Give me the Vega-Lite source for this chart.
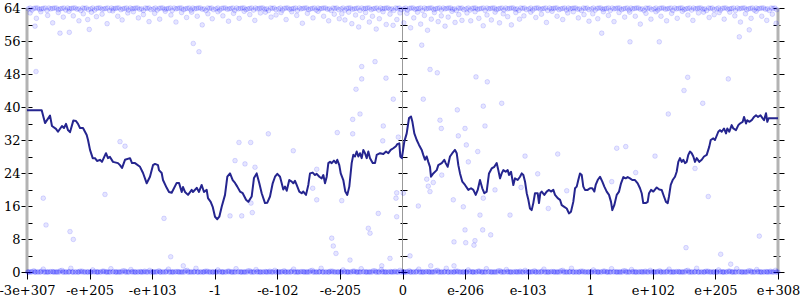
{
"$schema": "https://vega.github.io/schema/vega-lite/v6.json",
"width": 751, "height": 264,
"autosize": {"type": "none"},
"padding": {"left": 27, "top": 8, "right": 22, "bottom": 28},
"background": "white",
"config": {"view": {"stroke": null}, "axis": {"labelFont": "DejaVu Serif", "labelFontSize": 13, "labelColor": "#000", "tickColor": "#000", "grid": false, "title": null, "domain": false}},
"datasets": {
"edges": [{"x": 0}, {"x": 12}],
"mid": [{"x": 6}],
"line": [
{"x":0,"y":39.2},{"x":0.235,"y":39.2},{"x":0.288,"y":36.1},{"x":0.368,"y":37.9},{"x":0.399,"y":35.4},{"x":0.463,"y":34.7},{"x":0.495,"y":34.0},{"x":0.559,"y":35.4},{"x":0.591,"y":34.9},{"x":0.623,"y":35.9},{"x":0.655,"y":34.4},{"x":0.687,"y":33.9},{"x":0.74,"y":36.7},{"x":0.783,"y":36.6},{"x":0.815,"y":35.9},{"x":0.847,"y":34.9},{"x":0.895,"y":34.9},{"x":0.954,"y":33.2},{"x":0.975,"y":32.0},{"x":1.007,"y":29.6},{"x":1.05,"y":27.6},{"x":1.087,"y":27.6},{"x":1.119,"y":26.9},{"x":1.166,"y":27.2},{"x":1.198,"y":26.7},{"x":1.262,"y":28.8},{"x":1.294,"y":27.6},{"x":1.326,"y":27.9},{"x":1.374,"y":26.7},{"x":1.454,"y":26.4},{"x":1.486,"y":25.9},{"x":1.518,"y":25.2},{"x":1.566,"y":27.2},{"x":1.646,"y":27.6},{"x":1.678,"y":26.4},{"x":1.726,"y":26.4},{"x":1.806,"y":25.5},{"x":1.854,"y":24.0},{"x":1.913,"y":21.5},{"x":1.965,"y":23.1},{"x":2.013,"y":25.9},{"x":2.045,"y":26.2},{"x":2.093,"y":25.9},{"x":2.109,"y":24.7},{"x":2.152,"y":24.0},{"x":2.173,"y":22.3},{"x":2.232,"y":20.4},{"x":2.269,"y":19.4},{"x":2.312,"y":19.2},{"x":2.392,"y":21.6},{"x":2.429,"y":21.6},{"x":2.472,"y":19.4},{"x":2.493,"y":20.6},{"x":2.525,"y":19.4},{"x":2.573,"y":18.7},{"x":2.632,"y":19.9},{"x":2.652,"y":19.4},{"x":2.712,"y":20.4},{"x":2.748,"y":19.4},{"x":2.791,"y":21.1},{"x":2.828,"y":19.4},{"x":2.871,"y":19.9},{"x":2.892,"y":17.9},{"x":2.935,"y":17.0},{"x":2.967,"y":15.8},{"x":3.004,"y":13.4},{"x":3.041,"y":12.8},{"x":3.073,"y":13.4},{"x":3.111,"y":15.8},{"x":3.164,"y":18.7},{"x":3.201,"y":23.1},{"x":3.244,"y":23.9},{"x":3.287,"y":22.3},{"x":3.324,"y":21.6},{"x":3.36,"y":20.7},{"x":3.404,"y":19.5},{"x":3.447,"y":19.1},{"x":3.5,"y":17.5},{"x":3.536,"y":17.0},{"x":3.59,"y":18.3},{"x":3.627,"y":22.8},{"x":3.67,"y":23.9},{"x":3.712,"y":21.5},{"x":3.75,"y":19.1},{"x":3.803,"y":16.7},{"x":3.84,"y":16.8},{"x":3.883,"y":18.3},{"x":3.926,"y":21.5},{"x":3.963,"y":23.1},{"x":4.0,"y":23.8},{"x":4.043,"y":23.1},{"x":4.07,"y":21.5},{"x":4.095,"y":20.0},{"x":4.123,"y":20.7},{"x":4.15,"y":19.7},{"x":4.191,"y":22.3},{"x":4.23,"y":21.9},{"x":4.255,"y":21.5},{"x":4.282,"y":22.1},{"x":4.309,"y":21.1},{"x":4.351,"y":19.5},{"x":4.389,"y":19.1},{"x":4.415,"y":19.5},{"x":4.458,"y":18.7},{"x":4.495,"y":21.1},{"x":4.522,"y":23.9},{"x":4.565,"y":24.1},{"x":4.602,"y":23.5},{"x":4.629,"y":23.8},{"x":4.671,"y":23.1},{"x":4.709,"y":22.7},{"x":4.735,"y":23.5},{"x":4.762,"y":21.5},{"x":4.789,"y":23.1},{"x":4.815,"y":26.4},{"x":4.842,"y":26.7},{"x":4.869,"y":26.4},{"x":4.905,"y":27.0},{"x":4.937,"y":26.4},{"x":4.958,"y":27.2},{"x":4.99,"y":25.9},{"x":5.013,"y":23.9},{"x":5.054,"y":22.3},{"x":5.086,"y":19.5},{"x":5.118,"y":18.7},{"x":5.15,"y":20.7},{"x":5.188,"y":26.4},{"x":5.214,"y":28.4},{"x":5.241,"y":28.0},{"x":5.268,"y":29.2},{"x":5.294,"y":28.0},{"x":5.321,"y":28.8},{"x":5.348,"y":27.6},{"x":5.374,"y":29.6},{"x":5.401,"y":28.8},{"x":5.428,"y":27.6},{"x":5.454,"y":29.2},{"x":5.481,"y":27.6},{"x":5.524,"y":26.4},{"x":5.561,"y":26.4},{"x":5.588,"y":28.4},{"x":5.641,"y":28.8},{"x":5.694,"y":28.6},{"x":5.737,"y":29.2},{"x":5.773,"y":28.8},{"x":5.812,"y":29.6},{"x":5.853,"y":30.0},{"x":5.895,"y":30.5},{"x":5.917,"y":31.0},{"x":5.949,"y":31.2},{"x":5.965,"y":28.0},{"x":5.99,"y":27.6},{"x":6.029,"y":31.6},{"x":6.067,"y":33.6},{"x":6.104,"y":37.3},{"x":6.136,"y":37.7},{"x":6.157,"y":36.5},{"x":6.189,"y":33.6},{"x":6.227,"y":32.0},{"x":6.264,"y":30.8},{"x":6.307,"y":29.6},{"x":6.332,"y":28.4},{"x":6.359,"y":27.2},{"x":6.386,"y":28.0},{"x":6.412,"y":26.7},{"x":6.439,"y":25.5},{"x":6.455,"y":23.1},{"x":6.492,"y":23.9},{"x":6.547,"y":24.7},{"x":6.572,"y":25.9},{"x":6.627,"y":26.4},{"x":6.668,"y":27.2},{"x":6.69,"y":26.4},{"x":6.722,"y":25.5},{"x":6.759,"y":28.0},{"x":6.796,"y":28.8},{"x":6.839,"y":29.6},{"x":6.866,"y":28.8},{"x":6.892,"y":25.9},{"x":6.919,"y":23.9},{"x":6.956,"y":21.9},{"x":6.999,"y":21.1},{"x":7.052,"y":19.9},{"x":7.095,"y":20.3},{"x":7.132,"y":19.9},{"x":7.17,"y":18.7},{"x":7.202,"y":19.9},{"x":7.238,"y":22.3},{"x":7.275,"y":20.3},{"x":7.307,"y":19.1},{"x":7.345,"y":19.5},{"x":7.382,"y":23.9},{"x":7.425,"y":25.1},{"x":7.467,"y":25.5},{"x":7.505,"y":26.4},{"x":7.531,"y":24.7},{"x":7.558,"y":22.7},{"x":7.585,"y":23.9},{"x":7.611,"y":24.7},{"x":7.649,"y":24.3},{"x":7.681,"y":24.7},{"x":7.702,"y":23.5},{"x":7.734,"y":24.3},{"x":7.771,"y":21.1},{"x":7.798,"y":22.7},{"x":7.841,"y":22.3},{"x":7.878,"y":23.1},{"x":7.905,"y":23.9},{"x":7.931,"y":23.5},{"x":7.958,"y":21.9},{"x":7.985,"y":19.1},{"x":8.011,"y":17.5},{"x":8.037,"y":15.4},{"x":8.064,"y":15.0},{"x":8.09,"y":16.7},{"x":8.117,"y":19.1},{"x":8.16,"y":19.1},{"x":8.181,"y":16.7},{"x":8.202,"y":19.1},{"x":8.224,"y":19.5},{"x":8.266,"y":18.7},{"x":8.304,"y":19.5},{"x":8.341,"y":19.9},{"x":8.373,"y":19.5},{"x":8.41,"y":19.9},{"x":8.437,"y":18.7},{"x":8.48,"y":17.9},{"x":8.517,"y":17.5},{"x":8.544,"y":16.2},{"x":8.585,"y":15.8},{"x":8.624,"y":15.4},{"x":8.66,"y":14.2},{"x":8.692,"y":14.6},{"x":8.729,"y":17.0},{"x":8.757,"y":20.3},{"x":8.784,"y":20.7},{"x":8.809,"y":22.3},{"x":8.836,"y":23.9},{"x":8.864,"y":23.5},{"x":8.889,"y":20.7},{"x":8.916,"y":19.9},{"x":8.959,"y":19.9},{"x":8.996,"y":20.3},{"x":9.033,"y":20.3},{"x":9.065,"y":19.5},{"x":9.087,"y":21.1},{"x":9.119,"y":22.3},{"x":9.156,"y":23.1},{"x":9.193,"y":21.9},{"x":9.225,"y":20.7},{"x":9.263,"y":19.5},{"x":9.3,"y":18.7},{"x":9.332,"y":17.0},{"x":9.352,"y":15.0},{"x":9.384,"y":16.2},{"x":9.423,"y":18.7},{"x":9.46,"y":19.5},{"x":9.492,"y":21.5},{"x":9.529,"y":23.0},{"x":9.566,"y":22.7},{"x":9.598,"y":23.0},{"x":9.635,"y":22.7},{"x":9.672,"y":22.3},{"x":9.715,"y":22.3},{"x":9.758,"y":21.5},{"x":9.795,"y":20.3},{"x":9.822,"y":19.1},{"x":9.847,"y":16.7},{"x":9.886,"y":16.7},{"x":9.918,"y":17.0},{"x":9.939,"y":19.1},{"x":9.971,"y":19.9},{"x":10.008,"y":19.5},{"x":10.062,"y":20.5},{"x":10.103,"y":20.0},{"x":10.141,"y":19.9},{"x":10.178,"y":18.3},{"x":10.21,"y":17.0},{"x":10.238,"y":16.7},{"x":10.258,"y":18.3},{"x":10.286,"y":21.1},{"x":10.317,"y":22.3},{"x":10.354,"y":23.1},{"x":10.381,"y":24.3},{"x":10.407,"y":26.7},{"x":10.434,"y":27.6},{"x":10.461,"y":26.7},{"x":10.487,"y":27.2},{"x":10.514,"y":26.4},{"x":10.541,"y":26.7},{"x":10.567,"y":28.4},{"x":10.594,"y":29.2},{"x":10.621,"y":28.8},{"x":10.647,"y":28.0},{"x":10.674,"y":26.7},{"x":10.701,"y":27.6},{"x":10.743,"y":26.7},{"x":10.781,"y":27.2},{"x":10.818,"y":28.0},{"x":10.861,"y":28.4},{"x":10.902,"y":30.4},{"x":10.925,"y":32.0},{"x":10.966,"y":32.4},{"x":10.993,"y":32.0},{"x":11.046,"y":34.0},{"x":11.073,"y":34.4},{"x":11.1,"y":34.0},{"x":11.137,"y":34.8},{"x":11.169,"y":33.6},{"x":11.19,"y":34.8},{"x":11.222,"y":34.0},{"x":11.26,"y":35.6},{"x":11.286,"y":34.8},{"x":11.329,"y":34.4},{"x":11.366,"y":35.6},{"x":11.393,"y":36.0},{"x":11.436,"y":36.4},{"x":11.457,"y":37.6},{"x":11.489,"y":36.0},{"x":11.509,"y":36.8},{"x":11.541,"y":36.4},{"x":11.58,"y":36.8},{"x":11.617,"y":37.6},{"x":11.649,"y":38.0},{"x":11.681,"y":37.6},{"x":11.72,"y":38.0},{"x":11.752,"y":37.3},{"x":11.777,"y":36.8},{"x":11.808,"y":38.5},{"x":11.829,"y":36.4},{"x":11.851,"y":37.3},{"x":11.899,"y":37.3},{"x":12.0,"y":37.3}
],
"pts": [
{"x":0.01,"y":0},{"x":0.05,"y":0},{"x":0.11,"y":0.3},{"x":0.14,"y":0},{"x":0.21,"y":0},{"x":0.26,"y":0.7},{"x":0.3,"y":0},{"x":0.34,"y":0},{"x":0.41,"y":0.1},{"x":0.45,"y":0},{"x":0.5,"y":0},{"x":0.56,"y":0.4},{"x":0.6,"y":0},{"x":0.66,"y":0},{"x":0.7,"y":0.9},{"x":0.74,"y":0},{"x":0.81,"y":0},{"x":0.85,"y":0.2},{"x":0.9,"y":0},{"x":0.96,"y":0},
{"x":1.01,"y":0},{"x":1.05,"y":0.5},{"x":1.11,"y":0},{"x":1.14,"y":0},{"x":1.21,"y":0.2},{"x":1.26,"y":0},{"x":1.3,"y":0},{"x":1.34,"y":0.8},{"x":1.41,"y":0},{"x":1.45,"y":0},{"x":1.5,"y":0},{"x":1.56,"y":0.3},{"x":1.6,"y":0},{"x":1.66,"y":0.6},{"x":1.7,"y":0},{"x":1.74,"y":0},{"x":1.81,"y":0.1},{"x":1.85,"y":0},{"x":1.9,"y":0},{"x":1.96,"y":0.4},
{"x":2.01,"y":0},{"x":2.05,"y":0},{"x":2.11,"y":0.3},{"x":2.14,"y":0},{"x":2.21,"y":0},{"x":2.26,"y":0.7},{"x":2.3,"y":0},{"x":2.34,"y":0},{"x":2.41,"y":0.1},{"x":2.45,"y":0},{"x":2.5,"y":0},{"x":2.56,"y":0.4},{"x":2.6,"y":0},{"x":2.66,"y":0},{"x":2.7,"y":0.9},{"x":2.74,"y":0},{"x":2.81,"y":0},{"x":2.85,"y":0.2},{"x":2.9,"y":0},{"x":2.96,"y":0},
{"x":3.01,"y":0},{"x":3.05,"y":0.5},{"x":3.11,"y":0},{"x":3.14,"y":0},{"x":3.21,"y":0.2},{"x":3.26,"y":0},{"x":3.3,"y":0},{"x":3.34,"y":0.8},{"x":3.41,"y":0},{"x":3.45,"y":0},{"x":3.5,"y":0},{"x":3.56,"y":0.3},{"x":3.6,"y":0},{"x":3.66,"y":0.6},{"x":3.7,"y":0},{"x":3.74,"y":0},{"x":3.81,"y":0.1},{"x":3.85,"y":0},{"x":3.9,"y":0},{"x":3.96,"y":0.4},
{"x":4.01,"y":0},{"x":4.05,"y":0},{"x":4.11,"y":0.3},{"x":4.14,"y":0},{"x":4.21,"y":0},{"x":4.26,"y":0.7},{"x":4.3,"y":0},{"x":4.34,"y":0},{"x":4.41,"y":0.1},{"x":4.45,"y":0},{"x":4.5,"y":0},{"x":4.56,"y":0.4},{"x":4.6,"y":0},{"x":4.66,"y":0},{"x":4.7,"y":0.9},{"x":4.74,"y":0},{"x":4.81,"y":0},{"x":4.85,"y":0.2},{"x":4.9,"y":0},{"x":4.96,"y":0},
{"x":5.01,"y":0},{"x":5.05,"y":0.5},{"x":5.11,"y":0},{"x":5.14,"y":0},{"x":5.21,"y":0.2},{"x":5.26,"y":0},{"x":5.3,"y":0},{"x":5.34,"y":0.8},{"x":5.41,"y":0},{"x":5.45,"y":0},{"x":5.5,"y":0},{"x":5.56,"y":0.3},{"x":5.6,"y":0},{"x":5.66,"y":0.6},{"x":5.7,"y":0},{"x":5.74,"y":0},{"x":5.81,"y":0.1},{"x":5.85,"y":0},{"x":5.9,"y":0},{"x":5.96,"y":0.4},
{"x":6.01,"y":0},{"x":6.05,"y":0},{"x":6.11,"y":0.3},{"x":6.14,"y":0},{"x":6.21,"y":0},{"x":6.26,"y":0.7},{"x":6.3,"y":0},{"x":6.34,"y":0},{"x":6.41,"y":0.1},{"x":6.45,"y":0},{"x":6.5,"y":0},{"x":6.56,"y":0.4},{"x":6.6,"y":0},{"x":6.66,"y":0},{"x":6.7,"y":0.9},{"x":6.74,"y":0},{"x":6.81,"y":0},{"x":6.85,"y":0.2},{"x":6.9,"y":0},{"x":6.96,"y":0},
{"x":7.01,"y":0},{"x":7.05,"y":0.5},{"x":7.11,"y":0},{"x":7.14,"y":0},{"x":7.21,"y":0.2},{"x":7.26,"y":0},{"x":7.3,"y":0},{"x":7.34,"y":0.8},{"x":7.41,"y":0},{"x":7.45,"y":0},{"x":7.5,"y":0},{"x":7.56,"y":0.3},{"x":7.6,"y":0},{"x":7.66,"y":0.6},{"x":7.7,"y":0},{"x":7.74,"y":0},{"x":7.81,"y":0.1},{"x":7.85,"y":0},{"x":7.9,"y":0},{"x":7.96,"y":0.4},
{"x":8.01,"y":0},{"x":8.05,"y":0},{"x":8.11,"y":0.3},{"x":8.14,"y":0},{"x":8.21,"y":0},{"x":8.26,"y":0.7},{"x":8.3,"y":0},{"x":8.34,"y":0},{"x":8.41,"y":0.1},{"x":8.45,"y":0},{"x":8.5,"y":0},{"x":8.56,"y":0.4},{"x":8.6,"y":0},{"x":8.66,"y":0},{"x":8.7,"y":0.9},{"x":8.74,"y":0},{"x":8.81,"y":0},{"x":8.85,"y":0.2},{"x":8.9,"y":0},{"x":8.96,"y":0},
{"x":9.01,"y":0},{"x":9.05,"y":0.5},{"x":9.11,"y":0},{"x":9.14,"y":0},{"x":9.21,"y":0.2},{"x":9.26,"y":0},{"x":9.3,"y":0},{"x":9.34,"y":0.8},{"x":9.41,"y":0},{"x":9.45,"y":0},{"x":9.5,"y":0},{"x":9.56,"y":0.3},{"x":9.6,"y":0},{"x":9.66,"y":0.6},{"x":9.7,"y":0},{"x":9.74,"y":0},{"x":9.81,"y":0.1},{"x":9.85,"y":0},{"x":9.9,"y":0},{"x":9.96,"y":0.4},
{"x":10.01,"y":0},{"x":10.05,"y":0},{"x":10.11,"y":0.3},{"x":10.14,"y":0},{"x":10.21,"y":0},{"x":10.26,"y":0.7},{"x":10.3,"y":0},{"x":10.34,"y":0},{"x":10.41,"y":0.1},{"x":10.45,"y":0},{"x":10.5,"y":0},{"x":10.56,"y":0.4},{"x":10.6,"y":0},{"x":10.66,"y":0},{"x":10.7,"y":0.9},{"x":10.74,"y":0},{"x":10.81,"y":0},{"x":10.85,"y":0.2},{"x":10.9,"y":0},{"x":10.96,"y":0},
{"x":11.01,"y":0},{"x":11.05,"y":0.5},{"x":11.11,"y":0},{"x":11.14,"y":0},{"x":11.21,"y":0.2},{"x":11.26,"y":0},{"x":11.3,"y":0},{"x":11.34,"y":0.8},{"x":11.41,"y":0},{"x":11.45,"y":0},{"x":11.5,"y":0},{"x":11.56,"y":0.3},{"x":11.6,"y":0},{"x":11.66,"y":0.6},{"x":11.7,"y":0},{"x":11.74,"y":0},{"x":11.81,"y":0.1},{"x":11.85,"y":0},{"x":11.9,"y":0},{"x":11.96,"y":0.4},{"x":12.0,"y":0},
{"x":0.03,"y":0},{"x":0.08,"y":0.1},{"x":0.13,"y":0},{"x":0.18,"y":0},{"x":0.23,"y":0.2},{"x":0.28,"y":0},{"x":0.33,"y":0},{"x":0.38,"y":0.1},{"x":0.43,"y":0},{"x":0.48,"y":0},{"x":0.53,"y":0.3},{"x":0.58,"y":0},{"x":0.63,"y":0},{"x":0.68,"y":0.1},{"x":0.73,"y":0},{"x":0.78,"y":0},{"x":0.83,"y":0},{"x":0.88,"y":0.2},{"x":0.93,"y":0},{"x":0.98,"y":0},
{"x":1.03,"y":0},{"x":1.08,"y":0.1},{"x":1.13,"y":0},{"x":1.18,"y":0},{"x":1.23,"y":0.2},{"x":1.28,"y":0},{"x":1.33,"y":0},{"x":1.38,"y":0.1},{"x":1.43,"y":0},{"x":1.48,"y":0},{"x":1.53,"y":0.3},{"x":1.58,"y":0},{"x":1.63,"y":0},{"x":1.68,"y":0.1},{"x":1.73,"y":0},{"x":1.78,"y":0},{"x":1.83,"y":0},{"x":1.88,"y":0.2},{"x":1.93,"y":0},{"x":1.98,"y":0},
{"x":2.03,"y":0},{"x":2.08,"y":0.1},{"x":2.13,"y":0},{"x":2.18,"y":0},{"x":2.23,"y":0.2},{"x":2.28,"y":0},{"x":2.33,"y":0},{"x":2.38,"y":0.1},{"x":2.43,"y":0},{"x":2.48,"y":0},{"x":2.53,"y":0.3},{"x":2.58,"y":0},{"x":2.63,"y":0},{"x":2.68,"y":0.1},{"x":2.73,"y":0},{"x":2.78,"y":0},{"x":2.83,"y":0},{"x":2.88,"y":0.2},{"x":2.93,"y":0},{"x":2.98,"y":0},
{"x":3.03,"y":0},{"x":3.08,"y":0.1},{"x":3.13,"y":0},{"x":3.18,"y":0},{"x":3.23,"y":0.2},{"x":3.28,"y":0},{"x":3.33,"y":0},{"x":3.38,"y":0.1},{"x":3.43,"y":0},{"x":3.48,"y":0},{"x":3.53,"y":0.3},{"x":3.58,"y":0},{"x":3.63,"y":0},{"x":3.68,"y":0.1},{"x":3.73,"y":0},{"x":3.78,"y":0},{"x":3.83,"y":0},{"x":3.88,"y":0.2},{"x":3.93,"y":0},{"x":3.98,"y":0},
{"x":4.03,"y":0},{"x":4.08,"y":0.1},{"x":4.13,"y":0},{"x":4.18,"y":0},{"x":4.23,"y":0.2},{"x":4.28,"y":0},{"x":4.33,"y":0},{"x":4.38,"y":0.1},{"x":4.43,"y":0},{"x":4.48,"y":0},{"x":4.53,"y":0.3},{"x":4.58,"y":0},{"x":4.63,"y":0},{"x":4.68,"y":0.1},{"x":4.73,"y":0},{"x":4.78,"y":0},{"x":4.83,"y":0},{"x":4.88,"y":0.2},{"x":4.93,"y":0},{"x":4.98,"y":0},
{"x":5.03,"y":0},{"x":5.08,"y":0.1},{"x":5.13,"y":0},{"x":5.18,"y":0},{"x":5.23,"y":0.2},{"x":5.28,"y":0},{"x":5.33,"y":0},{"x":5.38,"y":0.1},{"x":5.43,"y":0},{"x":5.48,"y":0},{"x":5.53,"y":0.3},{"x":5.58,"y":0},{"x":5.63,"y":0},{"x":5.68,"y":0.1},{"x":5.73,"y":0},{"x":5.78,"y":0},{"x":5.83,"y":0},{"x":5.88,"y":0.2},{"x":5.93,"y":0},{"x":5.98,"y":0},
{"x":6.03,"y":0},{"x":6.08,"y":0.1},{"x":6.13,"y":0},{"x":6.18,"y":0},{"x":6.23,"y":0.2},{"x":6.28,"y":0},{"x":6.33,"y":0},{"x":6.38,"y":0.1},{"x":6.43,"y":0},{"x":6.48,"y":0},{"x":6.53,"y":0.3},{"x":6.58,"y":0},{"x":6.63,"y":0},{"x":6.68,"y":0.1},{"x":6.73,"y":0},{"x":6.78,"y":0},{"x":6.83,"y":0},{"x":6.88,"y":0.2},{"x":6.93,"y":0},{"x":6.98,"y":0},
{"x":7.03,"y":0},{"x":7.08,"y":0.1},{"x":7.13,"y":0},{"x":7.18,"y":0},{"x":7.23,"y":0.2},{"x":7.28,"y":0},{"x":7.33,"y":0},{"x":7.38,"y":0.1},{"x":7.43,"y":0},{"x":7.48,"y":0},{"x":7.53,"y":0.3},{"x":7.58,"y":0},{"x":7.63,"y":0},{"x":7.68,"y":0.1},{"x":7.73,"y":0},{"x":7.78,"y":0},{"x":7.83,"y":0},{"x":7.88,"y":0.2},{"x":7.93,"y":0},{"x":7.98,"y":0},
{"x":8.03,"y":0},{"x":8.08,"y":0.1},{"x":8.13,"y":0},{"x":8.18,"y":0},{"x":8.23,"y":0.2},{"x":8.28,"y":0},{"x":8.33,"y":0},{"x":8.38,"y":0.1},{"x":8.43,"y":0},{"x":8.48,"y":0},{"x":8.53,"y":0.3},{"x":8.58,"y":0},{"x":8.63,"y":0},{"x":8.68,"y":0.1},{"x":8.73,"y":0},{"x":8.78,"y":0},{"x":8.83,"y":0},{"x":8.88,"y":0.2},{"x":8.93,"y":0},{"x":8.98,"y":0},
{"x":9.03,"y":0},{"x":9.08,"y":0.1},{"x":9.13,"y":0},{"x":9.18,"y":0},{"x":9.23,"y":0.2},{"x":9.28,"y":0},{"x":9.33,"y":0},{"x":9.38,"y":0.1},{"x":9.43,"y":0},{"x":9.48,"y":0},{"x":9.53,"y":0.3},{"x":9.58,"y":0},{"x":9.63,"y":0},{"x":9.68,"y":0.1},{"x":9.73,"y":0},{"x":9.78,"y":0},{"x":9.83,"y":0},{"x":9.88,"y":0.2},{"x":9.93,"y":0},{"x":9.98,"y":0},
{"x":10.03,"y":0},{"x":10.08,"y":0.1},{"x":10.13,"y":0},{"x":10.18,"y":0},{"x":10.23,"y":0.2},{"x":10.28,"y":0},{"x":10.33,"y":0},{"x":10.38,"y":0.1},{"x":10.43,"y":0},{"x":10.48,"y":0},{"x":10.53,"y":0.3},{"x":10.58,"y":0},{"x":10.63,"y":0},{"x":10.68,"y":0.1},{"x":10.73,"y":0},{"x":10.78,"y":0},{"x":10.83,"y":0},{"x":10.88,"y":0.2},{"x":10.93,"y":0},{"x":10.98,"y":0},
{"x":11.03,"y":0},{"x":11.08,"y":0.1},{"x":11.13,"y":0},{"x":11.18,"y":0},{"x":11.23,"y":0.2},{"x":11.28,"y":0},{"x":11.33,"y":0},{"x":11.38,"y":0.1},{"x":11.43,"y":0},{"x":11.48,"y":0},{"x":11.53,"y":0.3},{"x":11.58,"y":0},{"x":11.63,"y":0},{"x":11.68,"y":0.1},{"x":11.73,"y":0},{"x":11.78,"y":0},{"x":11.83,"y":0},{"x":11.88,"y":0.2},{"x":11.93,"y":0},{"x":11.98,"y":0},
{"x":0.02,"y":0},{"x":0.07,"y":0},{"x":0.12,"y":0},{"x":0.17,"y":0},{"x":0.22,"y":0},{"x":0.27,"y":0},{"x":0.32,"y":0},{"x":0.37,"y":0},{"x":0.42,"y":0},{"x":0.47,"y":0},{"x":0.52,"y":0},{"x":0.57,"y":0},{"x":0.62,"y":0},{"x":0.67,"y":0},{"x":0.72,"y":0},{"x":0.77,"y":0},{"x":0.82,"y":0},{"x":0.87,"y":0},{"x":0.92,"y":0},{"x":0.97,"y":0},
{"x":1.02,"y":0},{"x":1.07,"y":0},{"x":1.12,"y":0},{"x":1.17,"y":0},{"x":1.22,"y":0},{"x":1.27,"y":0},{"x":1.32,"y":0},{"x":1.37,"y":0},{"x":1.42,"y":0},{"x":1.47,"y":0},{"x":1.52,"y":0},{"x":1.57,"y":0},{"x":1.62,"y":0},{"x":1.67,"y":0},{"x":1.72,"y":0},{"x":1.77,"y":0},{"x":1.82,"y":0},{"x":1.87,"y":0},{"x":1.92,"y":0},{"x":1.97,"y":0},
{"x":2.02,"y":0},{"x":2.07,"y":0},{"x":2.12,"y":0},{"x":2.17,"y":0},{"x":2.22,"y":0},{"x":2.27,"y":0},{"x":2.32,"y":0},{"x":2.37,"y":0},{"x":2.42,"y":0},{"x":2.47,"y":0},{"x":2.52,"y":0},{"x":2.57,"y":0},{"x":2.62,"y":0},{"x":2.67,"y":0},{"x":2.72,"y":0},{"x":2.77,"y":0},{"x":2.82,"y":0},{"x":2.87,"y":0},{"x":2.92,"y":0},{"x":2.97,"y":0},
{"x":3.02,"y":0},{"x":3.07,"y":0},{"x":3.12,"y":0},{"x":3.17,"y":0},{"x":3.22,"y":0},{"x":3.27,"y":0},{"x":3.32,"y":0},{"x":3.37,"y":0},{"x":3.42,"y":0},{"x":3.47,"y":0},{"x":3.52,"y":0},{"x":3.57,"y":0},{"x":3.62,"y":0},{"x":3.67,"y":0},{"x":3.72,"y":0},{"x":3.77,"y":0},{"x":3.82,"y":0},{"x":3.87,"y":0},{"x":3.92,"y":0},{"x":3.97,"y":0},
{"x":4.02,"y":0},{"x":4.07,"y":0},{"x":4.12,"y":0},{"x":4.17,"y":0},{"x":4.22,"y":0},{"x":4.27,"y":0},{"x":4.32,"y":0},{"x":4.37,"y":0},{"x":4.42,"y":0},{"x":4.47,"y":0},{"x":4.52,"y":0},{"x":4.57,"y":0},{"x":4.62,"y":0},{"x":4.67,"y":0},{"x":4.72,"y":0},{"x":4.77,"y":0},{"x":4.82,"y":0},{"x":4.87,"y":0},{"x":4.92,"y":0},{"x":4.97,"y":0},
{"x":5.02,"y":0},{"x":5.07,"y":0},{"x":5.12,"y":0},{"x":5.17,"y":0},{"x":5.22,"y":0},{"x":5.27,"y":0},{"x":5.32,"y":0},{"x":5.37,"y":0},{"x":5.42,"y":0},{"x":5.47,"y":0},{"x":5.52,"y":0},{"x":5.57,"y":0},{"x":5.62,"y":0},{"x":5.67,"y":0},{"x":5.72,"y":0},{"x":5.77,"y":0},{"x":5.82,"y":0},{"x":5.87,"y":0},{"x":5.92,"y":0},{"x":5.97,"y":0},
{"x":6.02,"y":0},{"x":6.07,"y":0},{"x":6.12,"y":0},{"x":6.17,"y":0},{"x":6.22,"y":0},{"x":6.27,"y":0},{"x":6.32,"y":0},{"x":6.37,"y":0},{"x":6.42,"y":0},{"x":6.47,"y":0},{"x":6.52,"y":0},{"x":6.57,"y":0},{"x":6.62,"y":0},{"x":6.67,"y":0},{"x":6.72,"y":0},{"x":6.77,"y":0},{"x":6.82,"y":0},{"x":6.87,"y":0},{"x":6.92,"y":0},{"x":6.97,"y":0},
{"x":7.02,"y":0},{"x":7.07,"y":0},{"x":7.12,"y":0},{"x":7.17,"y":0},{"x":7.22,"y":0},{"x":7.27,"y":0},{"x":7.32,"y":0},{"x":7.37,"y":0},{"x":7.42,"y":0},{"x":7.47,"y":0},{"x":7.52,"y":0},{"x":7.57,"y":0},{"x":7.62,"y":0},{"x":7.67,"y":0},{"x":7.72,"y":0},{"x":7.77,"y":0},{"x":7.82,"y":0},{"x":7.87,"y":0},{"x":7.92,"y":0},{"x":7.97,"y":0},
{"x":8.02,"y":0},{"x":8.07,"y":0},{"x":8.12,"y":0},{"x":8.17,"y":0},{"x":8.22,"y":0},{"x":8.27,"y":0},{"x":8.32,"y":0},{"x":8.37,"y":0},{"x":8.42,"y":0},{"x":8.47,"y":0},{"x":8.52,"y":0},{"x":8.57,"y":0},{"x":8.62,"y":0},{"x":8.67,"y":0},{"x":8.72,"y":0},{"x":8.77,"y":0},{"x":8.82,"y":0},{"x":8.87,"y":0},{"x":8.92,"y":0},{"x":8.97,"y":0},
{"x":9.02,"y":0},{"x":9.07,"y":0},{"x":9.12,"y":0},{"x":9.17,"y":0},{"x":9.22,"y":0},{"x":9.27,"y":0},{"x":9.32,"y":0},{"x":9.37,"y":0},{"x":9.42,"y":0},{"x":9.47,"y":0},{"x":9.52,"y":0},{"x":9.57,"y":0},{"x":9.62,"y":0},{"x":9.67,"y":0},{"x":9.72,"y":0},{"x":9.77,"y":0},{"x":9.82,"y":0},{"x":9.87,"y":0},{"x":9.92,"y":0},{"x":9.97,"y":0},
{"x":10.02,"y":0},{"x":10.07,"y":0},{"x":10.12,"y":0},{"x":10.17,"y":0},{"x":10.22,"y":0},{"x":10.27,"y":0},{"x":10.32,"y":0},{"x":10.37,"y":0},{"x":10.42,"y":0},{"x":10.47,"y":0},{"x":10.52,"y":0},{"x":10.57,"y":0},{"x":10.62,"y":0},{"x":10.67,"y":0},{"x":10.72,"y":0},{"x":10.77,"y":0},{"x":10.82,"y":0},{"x":10.87,"y":0},{"x":10.92,"y":0},{"x":10.97,"y":0},
{"x":11.02,"y":0},{"x":11.07,"y":0},{"x":11.12,"y":0},{"x":11.17,"y":0},{"x":11.22,"y":0},{"x":11.27,"y":0},{"x":11.32,"y":0},{"x":11.37,"y":0},{"x":11.42,"y":0},{"x":11.47,"y":0},{"x":11.52,"y":0},{"x":11.57,"y":0},{"x":11.62,"y":0},{"x":11.67,"y":0},{"x":11.72,"y":0},{"x":11.77,"y":0},{"x":11.82,"y":0},{"x":11.87,"y":0},{"x":11.92,"y":0},{"x":11.97,"y":0},
{"x":0.02,"y":63.8},{"x":0.08,"y":63.5},{"x":0.14,"y":64},{"x":0.2,"y":63.7},{"x":0.26,"y":63.9},{"x":0.32,"y":63.4},{"x":0.38,"y":63.8},{"x":0.44,"y":64},{"x":0.5,"y":63.6},{"x":0.56,"y":63.9},{"x":0.62,"y":63.5},{"x":0.68,"y":63.8},{"x":0.74,"y":64},{"x":0.8,"y":63.7},{"x":0.86,"y":63.4},{"x":0.92,"y":63.9},{"x":0.98,"y":63.6},
{"x":1.02,"y":63.8},{"x":1.08,"y":63.5},{"x":1.14,"y":64},{"x":1.2,"y":63.7},{"x":1.26,"y":63.9},{"x":1.32,"y":63.4},{"x":1.38,"y":63.8},{"x":1.44,"y":64},{"x":1.5,"y":63.6},{"x":1.56,"y":63.9},{"x":1.62,"y":63.5},{"x":1.68,"y":63.8},{"x":1.74,"y":64},{"x":1.8,"y":63.7},{"x":1.86,"y":63.4},{"x":1.92,"y":63.9},{"x":1.98,"y":63.6},
{"x":2.02,"y":63.8},{"x":2.08,"y":63.5},{"x":2.14,"y":64},{"x":2.2,"y":63.7},{"x":2.26,"y":63.9},{"x":2.32,"y":63.4},{"x":2.38,"y":63.8},{"x":2.44,"y":64},{"x":2.5,"y":63.6},{"x":2.56,"y":63.9},{"x":2.62,"y":63.5},{"x":2.68,"y":63.8},{"x":2.74,"y":64},{"x":2.8,"y":63.7},{"x":2.86,"y":63.4},{"x":2.92,"y":63.9},{"x":2.98,"y":63.6},
{"x":3.02,"y":63.8},{"x":3.08,"y":63.5},{"x":3.14,"y":64},{"x":3.2,"y":63.7},{"x":3.26,"y":63.9},{"x":3.32,"y":63.4},{"x":3.38,"y":63.8},{"x":3.44,"y":64},{"x":3.5,"y":63.6},{"x":3.56,"y":63.9},{"x":3.62,"y":63.5},{"x":3.68,"y":63.8},{"x":3.74,"y":64},{"x":3.8,"y":63.7},{"x":3.86,"y":63.4},{"x":3.92,"y":63.9},{"x":3.98,"y":63.6},
{"x":4.02,"y":63.8},{"x":4.08,"y":63.5},{"x":4.14,"y":64},{"x":4.2,"y":63.7},{"x":4.26,"y":63.9},{"x":4.32,"y":63.4},{"x":4.38,"y":63.8},{"x":4.44,"y":64},{"x":4.5,"y":63.6},{"x":4.56,"y":63.9},{"x":4.62,"y":63.5},{"x":4.68,"y":63.8},{"x":4.74,"y":64},{"x":4.8,"y":63.7},{"x":4.86,"y":63.4},{"x":4.92,"y":63.9},{"x":4.98,"y":63.6},
{"x":5.02,"y":63.8},{"x":5.08,"y":63.5},{"x":5.14,"y":64},{"x":5.2,"y":63.7},{"x":5.26,"y":63.9},{"x":5.32,"y":63.4},{"x":5.38,"y":63.8},{"x":5.44,"y":64},{"x":5.5,"y":63.6},{"x":5.56,"y":63.9},{"x":5.62,"y":63.5},{"x":5.68,"y":63.8},{"x":5.74,"y":64},{"x":5.8,"y":63.7},{"x":5.86,"y":63.4},{"x":5.92,"y":63.9},{"x":5.98,"y":63.6},
{"x":6.02,"y":63.8},{"x":6.08,"y":63.5},{"x":6.14,"y":64},{"x":6.2,"y":63.7},{"x":6.26,"y":63.9},{"x":6.32,"y":63.4},{"x":6.38,"y":63.8},{"x":6.44,"y":64},{"x":6.5,"y":63.6},{"x":6.56,"y":63.9},{"x":6.62,"y":63.5},{"x":6.68,"y":63.8},{"x":6.74,"y":64},{"x":6.8,"y":63.7},{"x":6.86,"y":63.4},{"x":6.92,"y":63.9},{"x":6.98,"y":63.6},
{"x":7.02,"y":63.8},{"x":7.08,"y":63.5},{"x":7.14,"y":64},{"x":7.2,"y":63.7},{"x":7.26,"y":63.9},{"x":7.32,"y":63.4},{"x":7.38,"y":63.8},{"x":7.44,"y":64},{"x":7.5,"y":63.6},{"x":7.56,"y":63.9},{"x":7.62,"y":63.5},{"x":7.68,"y":63.8},{"x":7.74,"y":64},{"x":7.8,"y":63.7},{"x":7.86,"y":63.4},{"x":7.92,"y":63.9},{"x":7.98,"y":63.6},
{"x":8.02,"y":63.8},{"x":8.08,"y":63.5},{"x":8.14,"y":64},{"x":8.2,"y":63.7},{"x":8.26,"y":63.9},{"x":8.32,"y":63.4},{"x":8.38,"y":63.8},{"x":8.44,"y":64},{"x":8.5,"y":63.6},{"x":8.56,"y":63.9},{"x":8.62,"y":63.5},{"x":8.68,"y":63.8},{"x":8.74,"y":64},{"x":8.8,"y":63.7},{"x":8.86,"y":63.4},{"x":8.92,"y":63.9},{"x":8.98,"y":63.6},
{"x":9.02,"y":63.8},{"x":9.08,"y":63.5},{"x":9.14,"y":64},{"x":9.2,"y":63.7},{"x":9.26,"y":63.9},{"x":9.32,"y":63.4},{"x":9.38,"y":63.8},{"x":9.44,"y":64},{"x":9.5,"y":63.6},{"x":9.56,"y":63.9},{"x":9.62,"y":63.5},{"x":9.68,"y":63.8},{"x":9.74,"y":64},{"x":9.8,"y":63.7},{"x":9.86,"y":63.4},{"x":9.92,"y":63.9},{"x":9.98,"y":63.6},
{"x":10.02,"y":63.8},{"x":10.08,"y":63.5},{"x":10.14,"y":64},{"x":10.2,"y":63.7},{"x":10.26,"y":63.9},{"x":10.32,"y":63.4},{"x":10.38,"y":63.8},{"x":10.44,"y":64},{"x":10.5,"y":63.6},{"x":10.56,"y":63.9},{"x":10.62,"y":63.5},{"x":10.68,"y":63.8},{"x":10.74,"y":64},{"x":10.8,"y":63.7},{"x":10.86,"y":63.4},{"x":10.92,"y":63.9},{"x":10.98,"y":63.6},
{"x":11.02,"y":63.8},{"x":11.08,"y":63.5},{"x":11.14,"y":64},{"x":11.2,"y":63.7},{"x":11.26,"y":63.9},{"x":11.32,"y":63.4},{"x":11.38,"y":63.8},{"x":11.44,"y":64},{"x":11.5,"y":63.6},{"x":11.56,"y":63.9},{"x":11.62,"y":63.5},{"x":11.68,"y":63.8},{"x":11.74,"y":64},{"x":11.8,"y":63.7},{"x":11.86,"y":63.4},{"x":11.92,"y":63.9},{"x":11.98,"y":63.6},
{"x":0.05,"y":64},{"x":0.11,"y":63.9},{"x":0.17,"y":64},{"x":0.23,"y":63.8},{"x":0.29,"y":64},{"x":0.35,"y":64},{"x":0.41,"y":63.9},{"x":0.47,"y":64},{"x":0.53,"y":63.8},{"x":0.59,"y":64},{"x":0.65,"y":64},{"x":0.71,"y":63.9},{"x":0.77,"y":64},{"x":0.83,"y":63.8},{"x":0.89,"y":64},{"x":0.95,"y":64},
{"x":1.05,"y":64},{"x":1.11,"y":63.9},{"x":1.17,"y":64},{"x":1.23,"y":63.8},{"x":1.29,"y":64},{"x":1.35,"y":64},{"x":1.41,"y":63.9},{"x":1.47,"y":64},{"x":1.53,"y":63.8},{"x":1.59,"y":64},{"x":1.65,"y":64},{"x":1.71,"y":63.9},{"x":1.77,"y":64},{"x":1.83,"y":63.8},{"x":1.89,"y":64},{"x":1.95,"y":64},
{"x":2.05,"y":64},{"x":2.11,"y":63.9},{"x":2.17,"y":64},{"x":2.23,"y":63.8},{"x":2.29,"y":64},{"x":2.35,"y":64},{"x":2.41,"y":63.9},{"x":2.47,"y":64},{"x":2.53,"y":63.8},{"x":2.59,"y":64},{"x":2.65,"y":64},{"x":2.71,"y":63.9},{"x":2.77,"y":64},{"x":2.83,"y":63.8},{"x":2.89,"y":64},{"x":2.95,"y":64},
{"x":3.05,"y":64},{"x":3.11,"y":63.9},{"x":3.17,"y":64},{"x":3.23,"y":63.8},{"x":3.29,"y":64},{"x":3.35,"y":64},{"x":3.41,"y":63.9},{"x":3.47,"y":64},{"x":3.53,"y":63.8},{"x":3.59,"y":64},{"x":3.65,"y":64},{"x":3.71,"y":63.9},{"x":3.77,"y":64},{"x":3.83,"y":63.8},{"x":3.89,"y":64},{"x":3.95,"y":64},
{"x":4.05,"y":64},{"x":4.11,"y":63.9},{"x":4.17,"y":64},{"x":4.23,"y":63.8},{"x":4.29,"y":64},{"x":4.35,"y":64},{"x":4.41,"y":63.9},{"x":4.47,"y":64},{"x":4.53,"y":63.8},{"x":4.59,"y":64},{"x":4.65,"y":64},{"x":4.71,"y":63.9},{"x":4.77,"y":64},{"x":4.83,"y":63.8},{"x":4.89,"y":64},{"x":4.95,"y":64},
{"x":5.05,"y":64},{"x":5.11,"y":63.9},{"x":5.17,"y":64},{"x":5.23,"y":63.8},{"x":5.29,"y":64},{"x":5.35,"y":64},{"x":5.41,"y":63.9},{"x":5.47,"y":64},{"x":5.53,"y":63.8},{"x":5.59,"y":64},{"x":5.65,"y":64},{"x":5.71,"y":63.9},{"x":5.77,"y":64},{"x":5.83,"y":63.8},{"x":5.89,"y":64},{"x":5.95,"y":64},
{"x":6.05,"y":64},{"x":6.11,"y":63.9},{"x":6.17,"y":64},{"x":6.23,"y":63.8},{"x":6.29,"y":64},{"x":6.35,"y":64},{"x":6.41,"y":63.9},{"x":6.47,"y":64},{"x":6.53,"y":63.8},{"x":6.59,"y":64},{"x":6.65,"y":64},{"x":6.71,"y":63.9},{"x":6.77,"y":64},{"x":6.83,"y":63.8},{"x":6.89,"y":64},{"x":6.95,"y":64},
{"x":7.05,"y":64},{"x":7.11,"y":63.9},{"x":7.17,"y":64},{"x":7.23,"y":63.8},{"x":7.29,"y":64},{"x":7.35,"y":64},{"x":7.41,"y":63.9},{"x":7.47,"y":64},{"x":7.53,"y":63.8},{"x":7.59,"y":64},{"x":7.65,"y":64},{"x":7.71,"y":63.9},{"x":7.77,"y":64},{"x":7.83,"y":63.8},{"x":7.89,"y":64},{"x":7.95,"y":64},
{"x":8.05,"y":64},{"x":8.11,"y":63.9},{"x":8.17,"y":64},{"x":8.23,"y":63.8},{"x":8.29,"y":64},{"x":8.35,"y":64},{"x":8.41,"y":63.9},{"x":8.47,"y":64},{"x":8.53,"y":63.8},{"x":8.59,"y":64},{"x":8.65,"y":64},{"x":8.71,"y":63.9},{"x":8.77,"y":64},{"x":8.83,"y":63.8},{"x":8.89,"y":64},{"x":8.95,"y":64},
{"x":9.05,"y":64},{"x":9.11,"y":63.9},{"x":9.17,"y":64},{"x":9.23,"y":63.8},{"x":9.29,"y":64},{"x":9.35,"y":64},{"x":9.41,"y":63.9},{"x":9.47,"y":64},{"x":9.53,"y":63.8},{"x":9.59,"y":64},{"x":9.65,"y":64},{"x":9.71,"y":63.9},{"x":9.77,"y":64},{"x":9.83,"y":63.8},{"x":9.89,"y":64},{"x":9.95,"y":64},
{"x":10.05,"y":64},{"x":10.11,"y":63.9},{"x":10.17,"y":64},{"x":10.23,"y":63.8},{"x":10.29,"y":64},{"x":10.35,"y":64},{"x":10.41,"y":63.9},{"x":10.47,"y":64},{"x":10.53,"y":63.8},{"x":10.59,"y":64},{"x":10.65,"y":64},{"x":10.71,"y":63.9},{"x":10.77,"y":64},{"x":10.83,"y":63.8},{"x":10.89,"y":64},{"x":10.95,"y":64},
{"x":11.05,"y":64},{"x":11.11,"y":63.9},{"x":11.17,"y":64},{"x":11.23,"y":63.8},{"x":11.29,"y":64},{"x":11.35,"y":64},{"x":11.41,"y":63.9},{"x":11.47,"y":64},{"x":11.53,"y":63.8},{"x":11.59,"y":64},{"x":11.65,"y":64},{"x":11.71,"y":63.9},{"x":11.77,"y":64},{"x":11.83,"y":63.8},{"x":11.89,"y":64},{"x":11.95,"y":64},
{"x":0.05,"y":62.8},{"x":0.15,"y":61.5},{"x":0.22,"y":63.1},{"x":0.33,"y":62.2},{"x":0.41,"y":60.4},{"x":0.5,"y":62.9},{"x":0.58,"y":61.8},{"x":0.67,"y":63.2},{"x":0.74,"y":62.1},{"x":0.83,"y":60.9},{"x":0.9,"y":62.6},{"x":0.97,"y":61.2},
{"x":1.03,"y":63.0},{"x":1.11,"y":61.9},{"x":1.2,"y":62.5},{"x":1.28,"y":60.2},{"x":1.37,"y":63.3},{"x":1.45,"y":62.0},{"x":1.52,"y":61.1},{"x":1.61,"y":62.8},{"x":1.7,"y":63.1},{"x":1.78,"y":61.6},{"x":1.86,"y":62.4},{"x":1.95,"y":60.7},
{"x":2.04,"y":62.7},{"x":2.12,"y":61.3},{"x":2.21,"y":63.2},{"x":2.3,"y":62.3},{"x":2.38,"y":60.6},{"x":2.47,"y":62.9},{"x":2.55,"y":61.7},{"x":2.63,"y":63.0},{"x":2.72,"y":62.0},{"x":2.8,"y":59.9},{"x":2.89,"y":62.6},{"x":2.96,"y":61.4},
{"x":3.05,"y":63.1},{"x":3.13,"y":62.1},{"x":3.22,"y":60.8},{"x":3.3,"y":62.7},{"x":3.39,"y":61.5},{"x":3.47,"y":63.2},{"x":3.56,"y":62.4},{"x":3.64,"y":61.0},{"x":3.73,"y":62.8},{"x":3.81,"y":63.0},{"x":3.9,"y":61.8},{"x":3.98,"y":62.3},
{"x":4.06,"y":62.9},{"x":4.14,"y":61.2},{"x":4.23,"y":63.1},{"x":4.31,"y":62.2},{"x":4.4,"y":60.3},{"x":4.48,"y":62.7},{"x":4.57,"y":61.6},{"x":4.65,"y":63.2},{"x":4.74,"y":62.0},{"x":4.82,"y":60.9},{"x":4.91,"y":62.5},{"x":4.99,"y":61.4},
{"x":5.03,"y":62.6},{"x":5.08,"y":61.1},{"x":5.14,"y":63.0},{"x":5.19,"y":60.2},{"x":5.25,"y":62.3},{"x":5.3,"y":59.4},{"x":5.36,"y":61.7},{"x":5.41,"y":62.9},{"x":5.47,"y":60.6},{"x":5.52,"y":62.0},{"x":5.58,"y":58.9},{"x":5.63,"y":61.4},{"x":5.69,"y":63.1},{"x":5.74,"y":60.0},{"x":5.8,"y":62.5},{"x":5.85,"y":59.8},{"x":5.91,"y":61.2},{"x":5.96,"y":62.8},
{"x":6.02,"y":60.4},{"x":6.07,"y":62.7},{"x":6.13,"y":59.2},{"x":6.18,"y":61.6},{"x":6.24,"y":63.0},{"x":6.29,"y":60.1},{"x":6.35,"y":62.2},{"x":6.4,"y":58.6},{"x":6.46,"y":61.3},{"x":6.51,"y":62.9},{"x":6.57,"y":60.7},{"x":6.62,"y":62.1},{"x":6.68,"y":59.6},{"x":6.73,"y":61.8},{"x":6.79,"y":63.2},{"x":6.84,"y":60.5},{"x":6.9,"y":62.4},{"x":6.95,"y":61.0},
{"x":7.03,"y":62.8},{"x":7.09,"y":60.9},{"x":7.16,"y":63.1},{"x":7.22,"y":61.5},{"x":7.29,"y":59.7},{"x":7.35,"y":62.3},{"x":7.42,"y":61.1},{"x":7.48,"y":63.0},{"x":7.55,"y":60.4},{"x":7.61,"y":62.6},{"x":7.68,"y":61.9},{"x":7.74,"y":59.9},{"x":7.81,"y":62.9},{"x":7.87,"y":61.3},{"x":7.94,"y":62.1},
{"x":8.05,"y":63.0},{"x":8.13,"y":61.7},{"x":8.22,"y":62.5},{"x":8.3,"y":60.5},{"x":8.39,"y":63.2},{"x":8.47,"y":62.0},{"x":8.56,"y":61.2},{"x":8.64,"y":62.8},{"x":8.73,"y":63.1},{"x":8.81,"y":61.6},{"x":8.9,"y":62.4},{"x":8.98,"y":60.8},
{"x":9.04,"y":62.6},{"x":9.12,"y":61.4},{"x":9.21,"y":63.1},{"x":9.29,"y":62.2},{"x":9.38,"y":60.7},{"x":9.46,"y":62.9},{"x":9.55,"y":61.8},{"x":9.63,"y":63.0},{"x":9.72,"y":62.0},{"x":9.8,"y":60.1},{"x":9.89,"y":62.7},{"x":9.97,"y":61.3},
{"x":10.05,"y":63.1},{"x":10.13,"y":62.0},{"x":10.22,"y":60.9},{"x":10.3,"y":62.7},{"x":10.39,"y":61.5},{"x":10.47,"y":63.2},{"x":10.56,"y":62.3},{"x":10.64,"y":61.0},{"x":10.73,"y":62.8},{"x":10.81,"y":63.0},{"x":10.9,"y":61.7},{"x":10.98,"y":62.4},
{"x":11.06,"y":62.9},{"x":11.14,"y":61.3},{"x":11.23,"y":63.0},{"x":11.31,"y":62.1},{"x":11.4,"y":60.6},{"x":11.48,"y":62.6},{"x":11.57,"y":61.5},{"x":11.65,"y":63.2},{"x":11.74,"y":62.0},{"x":11.82,"y":61.0},{"x":11.91,"y":62.5},{"x":11.97,"y":60.3},
{"x":5.348,"y":49.8},{"x":5.348,"y":46.8},{"x":5.561,"y":51.0},{"x":5.736,"y":47.0},{"x":5.853,"y":41.9},{"x":6.332,"y":41.9},{"x":6.44,"y":49.1},{"x":6.556,"y":48.3},{"x":6.307,"y":55.0},{"x":5.257,"y":44.3},{"x":5.321,"y":38.3},{"x":5.204,"y":37.0},{"x":6.599,"y":36.8},{"x":6.876,"y":39.3},{"x":7.174,"y":47.3},{"x":7.291,"y":40.2},{"x":7.355,"y":46.1},{"x":6.999,"y":34.8},{"x":7.318,"y":35.4},{"x":6.62,"y":34.8},{"x":6.892,"y":33.0},{"x":7.02,"y":30.8},{"x":5.933,"y":32.7},{"x":5.693,"y":35.4},
{"x":5.613,"y":14.2},{"x":5.907,"y":13.4},{"x":5.454,"y":10.6},{"x":5.481,"y":9.4},{"x":4.869,"y":8.2},{"x":4.894,"y":6.3},{"x":4.937,"y":4.5},{"x":5.161,"y":2.9},{"x":5.8,"y":3.3},{"x":6.12,"y":3.9},{"x":6.253,"y":16.0},{"x":6.823,"y":7.3},{"x":7.01,"y":7.1},{"x":7.158,"y":7.6},{"x":7.142,"y":6.5},{"x":6.999,"y":10.2},{"x":7.238,"y":13.8},{"x":7.281,"y":10.2},{"x":7.409,"y":9.0},{"x":6.823,"y":1.5},{"x":5.668,"y":1.5},{"x":6.451,"y":1.5},
{"x":0.304,"y":11.4},{"x":0.687,"y":9.8},{"x":0.74,"y":7.9},{"x":2.189,"y":13.0},{"x":2.296,"y":3.7},{"x":2.497,"y":1.5},{"x":10.53,"y":5.9},{"x":11.084,"y":4.3},{"x":11.244,"y":1.9},{"x":11.701,"y":8.7},
{"x":9.635,"y":55.8},{"x":10.103,"y":55.8},{"x":10.557,"y":47.2},{"x":11.206,"y":46.8},{"x":10.498,"y":44.0},{"x":11.541,"y":58.7},{"x":11.382,"y":57.0},{"x":9.183,"y":57.9},{"x":0.144,"y":48.6},{"x":0.527,"y":57.9},{"x":0.676,"y":58.1},{"x":0.995,"y":58.8},{"x":2.657,"y":55.4},{"x":2.748,"y":53.4},{"x":0.128,"y":59.6},
{"x":1.486,"y":31.6},{"x":1.566,"y":30.5},{"x":0.26,"y":17.9},{"x":1.246,"y":18.8},{"x":3.387,"y":31.4},{"x":3.574,"y":31.4},{"x":3.324,"y":27.0},{"x":3.483,"y":26.2},{"x":3.643,"y":25.4},{"x":3.244,"y":13.6},{"x":3.431,"y":13.6},{"x":3.579,"y":16.7},{"x":3.6,"y":14.4},
{"x":3.856,"y":33.5},{"x":4.255,"y":29.4},{"x":4.958,"y":33.8},{"x":5.204,"y":33.5},{"x":4.629,"y":24.9},{"x":4.565,"y":20.3},{"x":4.629,"y":17.5},{"x":5.029,"y":17.3},{"x":5.907,"y":19.2},{"x":5.896,"y":17.9},{"x":5.684,"y":31.8},
{"x":7.585,"y":40.9},{"x":7.202,"y":29.2},{"x":7.052,"y":26.7},{"x":6.627,"y":23.5},{"x":6.387,"y":22.5},{"x":6.412,"y":20.8},{"x":6.439,"y":19.5},{"x":6.492,"y":21.7},{"x":6.013,"y":19.1},{"x":6.812,"y":17.5},{"x":6.972,"y":15.8},{"x":7.291,"y":17.9},{"x":7.478,"y":19.9},{"x":7.718,"y":13.8},{"x":7.894,"y":20.5},
{"x":7.958,"y":28.1},{"x":8.48,"y":28.6},{"x":9.423,"y":30.0},{"x":9.567,"y":30.4},{"x":10.035,"y":28.1},{"x":8.16,"y":23.8},{"x":8.624,"y":19.7},{"x":9.343,"y":21.9},{"x":9.726,"y":24.1},{"x":8.33,"y":15.4},{"x":10.247,"y":38.3},{"x":10.797,"y":40.9},{"x":10.674,"y":25.1},{"x":10.886,"y":18.3}
]
},
"layer": [
{
"data": {"name": "edges"},
"mark": {"type": "rule", "color": "#b3b3b3", "strokeWidth": 3},
"encoding": {
"x": {"field": "x", "type": "quantitative", "scale": {"domain": [0, 12], "nice": false, "zero": false}, "axis": null},
"y": {"datum": 0, "type": "quantitative", "scale": {"domain": [0, 64], "nice": false, "zero": false},
"axis": {"orient": "right", "offset": -5, "values": [0,4,8,12,16,20,24,28,32,36,40,44,48,52,56,60,64], "labels": false, "tickSize": {"condition": {"test": "datum.value % 8 === 0", "value": 11}, "value": 7}}},
"y2": {"datum": 64}
}
},
{
"data": {"name": "mid"},
"mark": {"type": "rule", "color": "#999999", "strokeWidth": 1},
"encoding": {
"x": {"field": "x", "type": "quantitative", "axis": null},
"y": {"datum": 0, "type": "quantitative",
"axis": {"orient": "left", "offset": -380, "values": [0,4,8,12,16,20,24,28,32,36,40,44,48,52,56,60,64], "labels": false, "tickSize": {"condition": {"test": "datum.value % 8 === 0", "value": 9}, "value": 7}}},
"y2": {"datum": 64}
}
},
{
"data": {"name": "pts"},
"mark": {"type": "circle", "size": 22, "color": "#0000ff", "fillOpacity": 0.1, "stroke": "#0000ff", "strokeOpacity": 0.13, "strokeWidth": 1},
"encoding": {
"x": {"field": "x", "type": "quantitative",
"axis": {"orient": "bottom", "offset": -3, "tickSize": 10, "values": [0,1,2,3,4,5,6,7,8,9,10,11,12], "labelPadding": 5, "labelOverlap": false, "labelFlush": false, "labelBound": false,
"labelExpr": "['-3e+307','-e+205','-e+103','-1','-e-102','-e-205','0','e-206','e-103','1','e+102','e+205','e+308'][datum.value]"}},
"y": {"field": "y", "type": "quantitative",
"axis": {"orient": "left", "offset": -5, "values": [0,4,8,12,16,20,24,28,32,36,40,44,48,52,56,60,64], "labelPadding": 1, "labelExpr": "datum.value % 8 === 0 ? datum.label : ''", "tickSize": {"condition": {"test": "datum.value % 8 === 0", "value": 11}, "value": 5}}}
}
},
{
"data": {"name": "line"},
"mark": {"type": "line", "color": "#25258f", "strokeWidth": 2, "strokeJoin": "round"},
"encoding": {
"x": {"field": "x", "type": "quantitative", "axis": null},
"y": {"field": "y", "type": "quantitative", "axis": null}
}
}
],
"resolve": {"axis": {"x": "independent", "y": "independent"}}
}
